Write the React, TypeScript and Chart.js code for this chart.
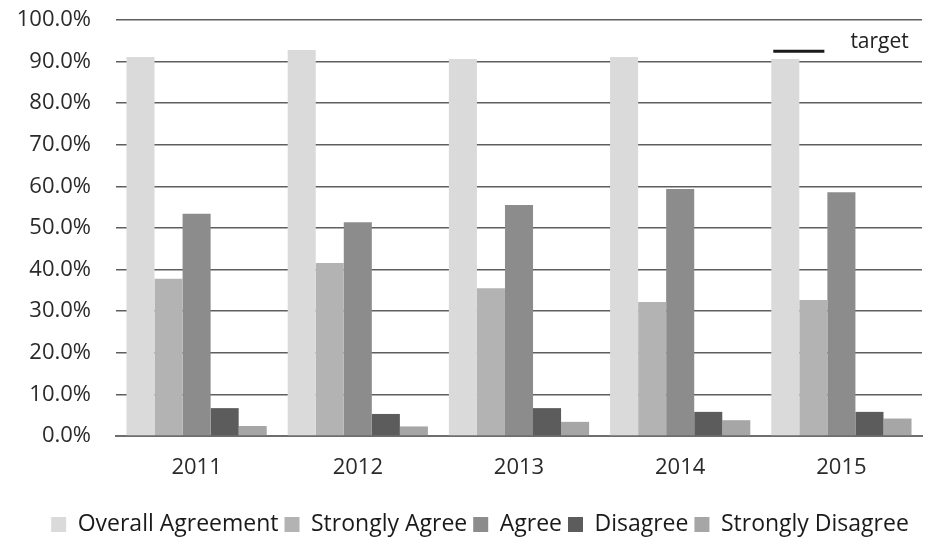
import React, { useEffect, useRef } from "react";
import { Chart, registerables } from "chart.js";

Chart.register(...registerables);

const years = ["2011", "2012", "2013", "2014", "2015"];
const overallAgreement = [91.1, 92.8, 90.6, 91.1, 90.6];
const stronglyAgree = [37.8, 41.6, 35.5, 32.2, 32.7];
const agree = [53.4, 51.4, 55.5, 59.4, 58.6];
const disagree = [6.7, 5.3, 6.7, 5.8, 5.8];
const stronglyDisagree = [2.4, 2.3, 3.4, 3.8, 4.2];
const targetValue = 92.5;
const targetLabel = "target";
const targetYearIndex = 4;

const FONT = "'Open Sans', 'DejaVu Sans', sans-serif";

const targetPlugin = {
  id: "targetLine",
  afterDatasetsDraw(chart: any) {
    const y = chart.scales.y.getPixelForValue(targetValue);
    const b0 = chart.getDatasetMeta(0).data[targetYearIndex];
    const b1 = chart.getDatasetMeta(1).data[targetYearIndex];
    if (!b0 || !b1) return;
    const x0 = b0.x - b0.width / 2 + 2;
    const x1 = b1.x + b1.width / 2 - 3;
    const ctx = chart.ctx;
    ctx.save();
    ctx.strokeStyle = "#1a1a1a";
    ctx.lineWidth = 3;
    ctx.beginPath();
    ctx.moveTo(x0, y);
    ctx.lineTo(x1, y);
    ctx.stroke();
    ctx.fillStyle = "#222";
    ctx.font = `21px ${FONT}`;
    ctx.textAlign = "left";
    ctx.textBaseline = "middle";
    ctx.fillText(targetLabel, x1 + 26, y - 9);
    ctx.restore();
  },
};

const legendShiftPlugin = {
  id: "legendShift",
  afterLayout(chart: any) {
    if (chart.legend) {
      chart.legend.left = 38;
    }
  },
};

export default function App() {
  const ref = useRef<HTMLCanvasElement | null>(null);
  useEffect(() => {
    if (!ref.current) return;
    const chart = new Chart(ref.current, {
      type: "bar",
      data: {
        labels: years,
        datasets: [
          { label: "Overall Agreement", data: overallAgreement, backgroundColor: "#dadada" },
          { label: "Strongly Agree", data: stronglyAgree, backgroundColor: "#b3b3b3" },
          { label: "Agree", data: agree, backgroundColor: "#8c8c8c" },
          { label: "Disagree", data: disagree, backgroundColor: "#5c5c5c" },
          { label: "Strongly Disagree", data: stronglyDisagree, backgroundColor: "#a6a6a6" },
        ],
      },
      options: {
        responsive: false,
        animation: false,
        layout: { padding: { left: 0, right: 6, top: 20, bottom: 0 } },
        datasets: { bar: { categoryPercentage: 0.87, barPercentage: 1.0 } },
        scales: {
          x: {
            grid: { display: false },
            border: { display: true, color: "#6e6e6e", width: 2 },
            ticks: { color: "#2a2a2a", font: { family: FONT, size: 22 }, padding: 11 },
            afterFit: (s: any) => {
              s.height = 71;
              s.paddingLeft = 0;
              s.paddingRight = 0;
            },
          },
          y: {
            min: 0,
            max: 100,
            ticks: {
              stepSize: 10,
              color: "#2a2a2a",
              font: { family: FONT, size: 22 },
              padding: 25,
              callback: (v: any) => Number(v).toFixed(1) + "%",
            },
            grid: { color: "#5e5e5e", lineWidth: 1.6, tickLength: 0, drawTicks: false },
            border: { display: false },
            afterFit: (s: any) => {
              s.width = 116;
              s.paddingTop = 0;
              s.paddingBottom = 0;
            },
          },
        },
        plugins: {
          tooltip: { enabled: false },
          legend: {
            position: "bottom",
            maxHeight: 35,
            labels: {
              color: "#1a1a1a",
              font: { family: FONT, size: 23 },
              boxWidth: 15,
              boxHeight: 15,
              padding: 6,
            },
          },
        },
      },
      plugins: [targetPlugin, legendShiftPlugin],
    });
    return () => chart.destroy();
  }, []);
  return (
    <div style={{ position: "fixed", left: 0, top: 0, width: 928, height: 542, background: "#fff" }}>
      <canvas ref={ref} width={928} height={542} />
    </div>
  );
}
